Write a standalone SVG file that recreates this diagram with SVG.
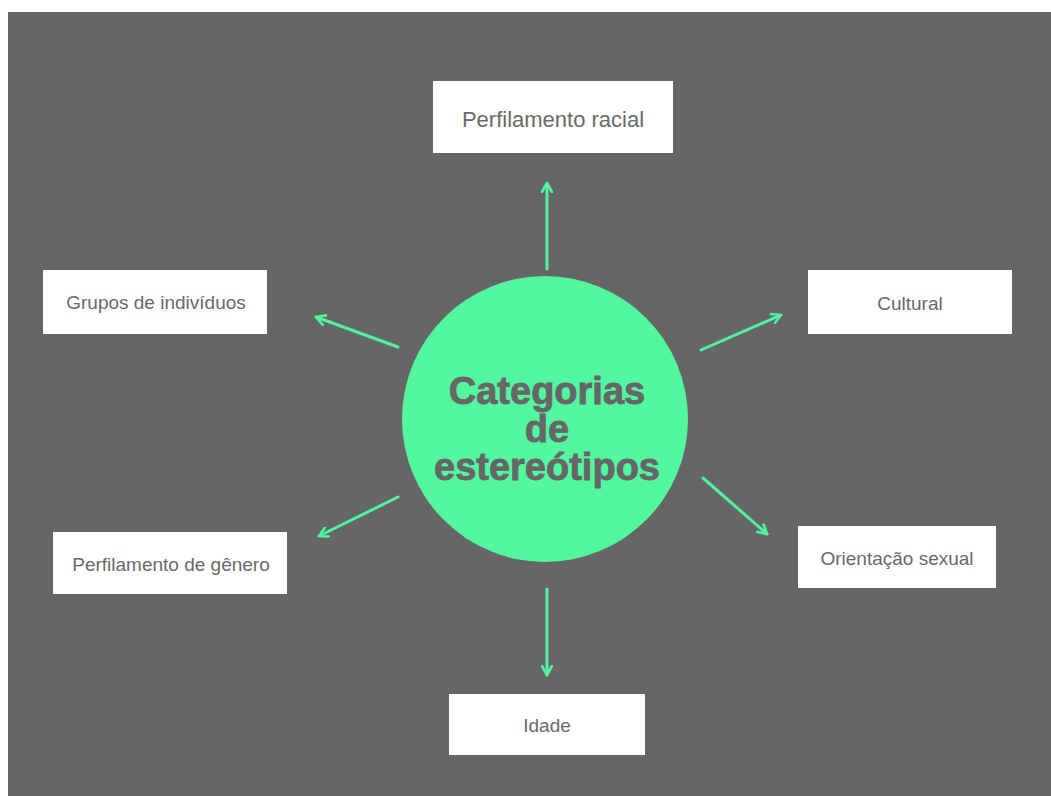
<svg xmlns="http://www.w3.org/2000/svg" width="1051" height="796" viewBox="0 0 1051 796">
  <style>
    .box { fill: #ffffff; }
    .label { font-family: "Liberation Sans", Arial, sans-serif; font-size: 19px; fill: #6a6a6a; text-anchor: middle; dominant-baseline: central; }
    .title { font-family: "Liberation Sans", Arial, sans-serif; font-size: 38px; font-weight: bold; fill: #666666; stroke: #666666; stroke-width: 0.8; text-anchor: middle; }
    .arrow { stroke: #52f2a0; stroke-width: 3; fill: none; stroke-linecap: round; marker-end: url(#head); }
  </style>
  <defs>
    <marker id="head" viewBox="0 0 12 12" refX="10" refY="6" markerWidth="12" markerHeight="12" markerUnits="userSpaceOnUse" orient="auto">
      <path d="M1,1 L10,6 L1,11" fill="none" stroke="#52f2a0" stroke-width="2.6" stroke-linecap="round" stroke-linejoin="round"/>
    </marker>
  </defs>

  <rect x="8" y="12" width="1043" height="784" fill="#666666"/>

  <g id="connectors">
    <line class="arrow" x1="547" y1="269" x2="547" y2="183"/>
    <line class="arrow" x1="398" y1="347" x2="316" y2="317"/>
    <line class="arrow" x1="701" y1="350" x2="781" y2="315"/>
    <line class="arrow" x1="398" y1="497" x2="319" y2="536"/>
    <line class="arrow" x1="703" y1="478" x2="767" y2="534"/>
    <line class="arrow" x1="547" y1="589" x2="547" y2="675"/>
  </g>

  <g id="center">
    <circle cx="545" cy="419" r="143" fill="#52f7a0"/>
    <text class="title" x="547" y="404">Categorias</text>
    <text class="title" x="547" y="442">de</text>
    <text class="title" x="547" y="480">estereótipos</text>
  </g>

  <g id="racial">
    <rect class="box" x="433" y="81" width="240" height="72"/>
    <text class="label" x="553" y="119" style="font-size:22px">Perfilamento racial</text>
  </g>

  <g id="grupos">
    <rect class="box" x="43" y="270" width="224" height="64"/>
    <text class="label" x="156" y="302">Grupos de indivíduos</text>
  </g>

  <g id="cultural">
    <rect class="box" x="808" y="270" width="204" height="64"/>
    <text class="label" x="910" y="303">Cultural</text>
  </g>

  <g id="genero">
    <rect class="box" x="53" y="532" width="234" height="62"/>
    <text class="label" x="171" y="564">Perfilamento de gênero</text>
  </g>

  <g id="orientacao">
    <rect class="box" x="798" y="526" width="198" height="62"/>
    <text class="label" x="897" y="558">Orientação sexual</text>
  </g>

  <g id="idade">
    <rect class="box" x="449" y="694" width="196" height="61"/>
    <text class="label" x="547" y="725">Idade</text>
  </g>
</svg>
